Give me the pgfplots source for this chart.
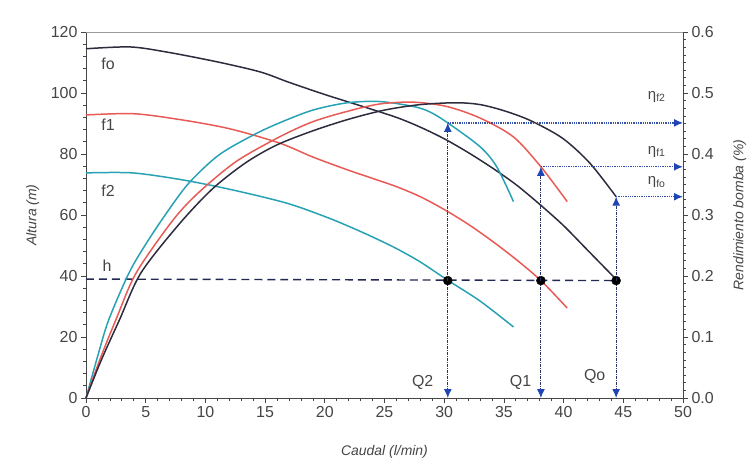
\documentclass[border=0pt]{standalone}
\usepackage{fontspec}
\setmainfont{Liberation Sans}
\usepackage{pgfplots}
\pgfplotsset{compat=1.18}
\usetikzlibrary{arrows.meta}
\definecolor{cblack}{HTML}{2C2C3E}
\definecolor{cred}{HTML}{E85A55}
\definecolor{cteal}{HTML}{27A2B4}
\definecolor{cblue}{HTML}{1F45B5}
\definecolor{cnavy}{HTML}{2A3266}
\definecolor{ctext}{HTML}{454545}
\definecolor{cframe}{HTML}{9A9A9A}
\begin{document}
\begin{tikzpicture}
\useasboundingbox (-86bp,-68bp) rectangle (667bp,398bp);
\pgfplotsset{
  common/.style={
    at={(0,0)}, anchor=south west,
    scale only axis, width=597bp, height=366bp,
    xmin=0, xmax=50,
    tick align=outside,
    major tick length=5bp, minor tick length=3bp,
    every tick/.style={ctext, line width=0.7pt},
    tick label style={font=\fontsize{16}{18}\selectfont, text=ctext},
    label style={font=\fontsize{14}{16}\selectfont\itshape, text=ctext},
    /pgf/number format/assume math mode=true,
    axis line style={ctext, line width=0.9pt},
    clip=false,
  },
  curve/.style={line width=1.5pt, smooth, tension=0.5, no marks},
}
% ---------------- head axis (left) ----------------
\begin{axis}[common,
  axis x line*=bottom, axis y line*=left,
  x axis line style={-}, y axis line style={-},
  ymin=0, ymax=120,
  xtick={0,5,...,50}, minor x tick num=4,
  ytick={0,20,...,120}, minor y tick num=4,
  xlabel={Caudal (l/min)},
  ylabel={Altura (m)},
  xlabel style={at={(axis description cs:0.5,-0.148)}, anchor=center},
  ylabel style={at={(axis description cs:-0.089,0.5)}, anchor=center},
]
\draw[cframe, line width=0.8pt] (rel axis cs:0,1) -- (rel axis cs:1,1);
% f0
\addplot[curve, cblack] coordinates {(0,114.5) (3.7,115.1) (6.8,113.4) (11,110.2) (14.6,106.9) (17,103.5) (20,99.5) (23,95.8) (26,92) (28,88.8) (30,85) (32,80.5) (34,75.5) (36,70) (38,63.5) (40,56.5) (42,48.5) (44.5,38.5)};
% f1
\addplot[curve, cred] coordinates {(0,92.8) (4,93.2) (8,91.2) (12,88.3) (16.2,83.6) (19,79) (21.9,74.8) (24,72) (26,69.3) (28,66) (30,61.8) (32,57) (34,51.5) (36,45.5) (38.1,38.5) (40.3,29.5)};
% f2
\addplot[curve, cteal] coordinates {(0,73.8) (3.9,73.8) (8.1,71.5) (12.3,68.2) (16.8,63.9) (20,59.5) (22,56.3) (24,52.8) (26,49) (28,44.6) (30.3,38.6) (33,31.8) (35.8,23.3)};
% h line
\addplot[cnavy!80!black, line width=1.4pt, dash pattern=on 8pt off 5pt, no marks] coordinates {(0,39) (44.5,38.5)};
% lower vertical arrows
\addplot[cnavy, line width=1pt, densely dashdotted, -{Latex[length=9bp,width=8bp,color=cblue]}, no marks] coordinates {(30.3,38.5) (30.3,0)};
\addplot[cnavy, line width=1pt, densely dashdotted, -{Latex[length=9bp,width=8bp,color=cblue]}, no marks] coordinates {(38.1,38.5) (38.1,0)};
\addplot[cnavy, line width=1pt, densely dashdotted, -{Latex[length=9bp,width=8bp,color=cblue]}, no marks] coordinates {(44.4,38.5) (44.4,0)};
% operating points
\addplot[only marks, mark=*, mark size=4.5bp, black] coordinates {(30.3,38.5) (38.1,38.5) (44.4,38.5)};
% labels
\node[anchor=west, text=ctext, font=\fontsize{16}{18}\selectfont] at (axis cs:1.0,109.5) {fo};
\node[anchor=west, text=ctext, font=\fontsize{16}{18}\selectfont] at (axis cs:1.0,89.5) {f1};
\node[anchor=west, text=ctext, font=\fontsize{16}{18}\selectfont] at (axis cs:1.0,68) {f2};
\node[anchor=west, text=ctext, font=\fontsize{16}{18}\selectfont] at (axis cs:1.1,43.5) {h};
\node[text=ctext, font=\fontsize{16}{18}\selectfont] at (axis cs:28.2,5) {Q2};
\node[text=ctext, font=\fontsize{16}{18}\selectfont] at (axis cs:36.4,5) {Q1};
\node[text=ctext, font=\fontsize{16}{18}\selectfont] at (axis cs:42.6,7) {Qo};
\end{axis}
% ---------------- efficiency axis (right) ----------------
\begin{axis}[common,
  axis x line=none, axis y line*=right,
  y axis line style={-},
  ymin=0, ymax=0.6,
  ytick={0,0.1,...,0.6}, minor y tick num=7,
  yticklabel style={/pgf/number format/.cd, fixed, fixed zerofill, precision=1},
  ylabel={Rendimiento bomba (\%)},
  ylabel style={at={(axis description cs:1.095,0.5)}, anchor=center, rotate=0},
]
% efficiency curves
\addplot[curve, cteal] coordinates {(0,0) (1,0.07) (1.9,0.128) (3.6,0.205) (5,0.252) (6.7,0.302) (8.6,0.352) (11.1,0.398) (14,0.431) (16.2,0.451) (19,0.472) (21.9,0.484) (24.6,0.486) (27.4,0.478) (28.8,0.469) (30.3,0.451) (33,0.412) (34.4,0.379) (35.8,0.322)};
\addplot[curve, cred] coordinates {(0,0) (1.2,0.065) (2.5,0.128) (4.2,0.205) (7.3,0.292) (9.5,0.338) (12.6,0.388) (16.2,0.428) (19,0.453) (21.9,0.47) (24.6,0.482) (27.4,0.485) (30.2,0.478) (33,0.459) (35.8,0.428) (38.1,0.379) (40.3,0.322)};
\addplot[curve, cblack] coordinates {(0,0) (1.3,0.063) (2.8,0.128) (4.6,0.205) (7.8,0.285) (10.6,0.343) (13.4,0.386) (16,0.415) (19,0.438) (22,0.457) (25,0.472) (28,0.481) (31,0.484) (33,0.481) (35,0.471) (37.2,0.455) (39.9,0.426) (42.2,0.385) (44.4,0.33)};
% upper vertical arrows
\addplot[cnavy, line width=1pt, densely dashdotted, -{Latex[length=9bp,width=8bp,color=cblue]}, no marks] coordinates {(30.3,0.1925) (30.3,0.451)};
\addplot[cnavy, line width=1pt, densely dashdotted, -{Latex[length=9bp,width=8bp,color=cblue]}, no marks] coordinates {(38.1,0.1925) (38.1,0.379)};
\addplot[cnavy, line width=1pt, densely dashdotted, -{Latex[length=9bp,width=8bp,color=cblue]}, no marks] coordinates {(44.4,0.1925) (44.4,0.33)};
% horizontal arrows to the efficiency axis
\addplot[cblue!80!gray, line width=1.3pt, densely dotted, -{Latex[length=9bp,width=8bp,color=cblue]}, no marks] coordinates {(30.3,0.451) (50,0.451)};
\addplot[cblue!80!gray, line width=1.3pt, densely dotted, -{Latex[length=9bp,width=8bp,color=cblue]}, no marks] coordinates {(38.1,0.379) (50,0.379)};
\addplot[cblue!80!gray, line width=1.3pt, densely dotted, -{Latex[length=9bp,width=8bp,color=cblue]}, no marks] coordinates {(44.4,0.33) (50,0.33)};
\node[text=ctext, font=\fontsize{15}{17}\selectfont] at (axis cs:47.8,0.494) {η\textsubscript{f2}};
\node[text=ctext, font=\fontsize{15}{17}\selectfont] at (axis cs:47.8,0.404) {η\textsubscript{f1}};
\node[text=ctext, font=\fontsize{15}{17}\selectfont] at (axis cs:47.8,0.354) {η\textsubscript{fo}};
\end{axis}
\end{tikzpicture}
\end{document}
